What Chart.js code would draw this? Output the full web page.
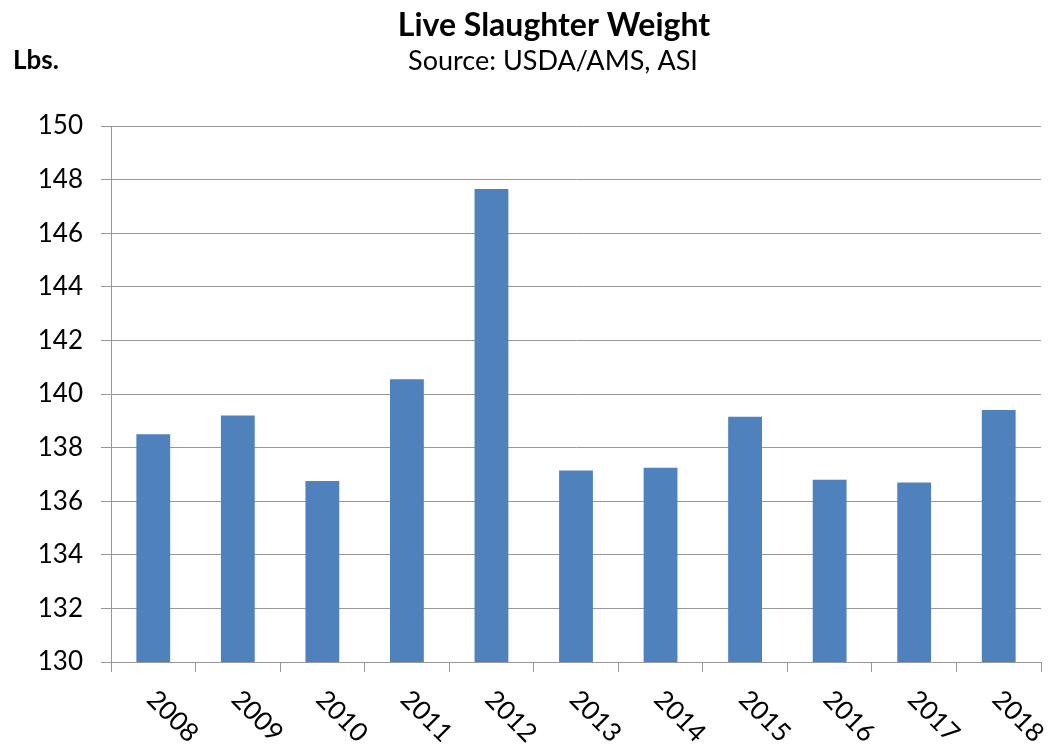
<!DOCTYPE html>
<html>
<head>
<meta charset="utf-8">
<script src="https://cdn.jsdelivr.net/npm/chart.js@4"></script>
<style>
html,body{margin:0;padding:0;background:#fff;}
#c{display:block;}
</style>
</head>
<body>
<canvas id="c" width="1049" height="747"></canvas>
<script>
const categories = ['2008','2009','2010','2011','2012','2013','2014','2015','2016','2017','2018'];
const weights = [138.5, 139.2, 136.75, 140.55, 147.65, 137.15, 137.25, 139.15, 136.8, 136.7, 139.4];
const yMin = 130, yMax = 150, yStep = 2;
const titleText = 'Live Slaughter Weight';
const subtitleText = 'Source: USDA/AMS, ASI';
const yUnitText = 'Lbs.';

const FONT = 'Lato, "Open Sans", "Liberation Sans", sans-serif';
const GRID = '#989898';

const textPlugin = {
  id: 'texts',
  afterDraw(chart) {
    const ctx = chart.ctx;
    const xs = chart.scales.x;
    const area = chart.chartArea;
    ctx.save();
    ctx.fillStyle = '#000';
    ctx.textAlign = 'center';
    ctx.textBaseline = 'alphabetic';
    ctx.font = 'bold 32px ' + FONT;
    ctx.fillText(titleText, 554, 36);
    ctx.font = '27px ' + FONT;
    ctx.fillText(subtitleText, 553, 70);
    ctx.textAlign = 'left';
    ctx.font = 'bold 26px ' + FONT;
    ctx.fillText(yUnitText, 13, 69);
    // rotated category labels
    ctx.font = '26px ' + FONT;
    ctx.textAlign = 'left';
    ctx.textBaseline = 'middle';
    const labels = xs.getLabels();
    labels.forEach((lab, i) => {
      const x = xs.getPixelForTick(i);
      ctx.save();
      ctx.translate(x - 2, area.bottom + 33);
      ctx.rotate(Math.PI / 4);
      ctx.fillText(lab, 0, 0);
      ctx.restore();
    });
    ctx.restore();
  }
};

new Chart(document.getElementById('c'), {
  type: 'bar',
  data: {
    labels: categories,
    datasets: [{
      data: weights,
      backgroundColor: '#4f81bd',
      borderWidth: 0,
      barPercentage: 0.4,
      categoryPercentage: 1.0
    }]
  },
  options: {
    responsive: false,
    animation: false,
    devicePixelRatio: 1,
    layout: { padding: { top: 126, right: 8, left: 0, bottom: 0 } },
    plugins: { legend: { display: false }, title: { display: false }, tooltip: { enabled: false } },
    scales: {
      x: {
        offset: true,
        grid: { offset: true, drawOnChartArea: false, drawTicks: true, tickLength: 10, color: GRID, lineWidth: 1 },
        border: { display: true, color: GRID, width: 1 },
        ticks: { display: false },
        afterFit(scale) { scale.height = 85; }
      },
      y: {
        min: yMin,
        max: yMax,
        grid: { color: GRID, lineWidth: 1, drawTicks: true, tickLength: 10 },
        border: { display: true, color: GRID, width: 1 },
        ticks: { stepSize: yStep, color: '#000', padding: 18, font: { family: FONT, size: 26 } },
        afterFit(scale) { scale.width = 111; }
      }
    }
  },
  plugins: [textPlugin]
});
</script>
</body>
</html>
